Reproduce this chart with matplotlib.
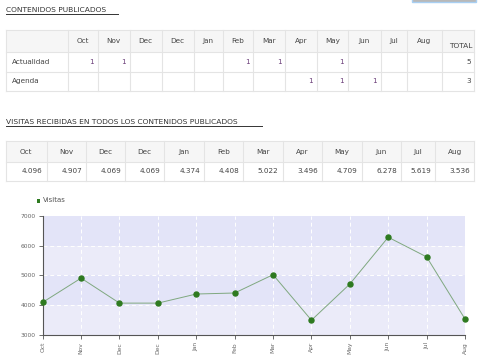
import matplotlib
matplotlib.use("Agg")
import matplotlib.pyplot as plt
from matplotlib.patches import Rectangle
from matplotlib.lines import Line2D

# ---------------- data ----------------
months = ["Oct", "Nov", "Dec", "Dec", "Jan", "Feb", "Mar", "Apr", "May", "Jun", "Jul", "Aug"]
actualidad = [1, 1, None, None, None, 1, 1, None, 1, None, None, None]
agenda = [None, None, None, None, None, None, None, 1, 1, 1, None, None]
row_names = ["Actualidad", "Agenda"]
totals = [5, 3]
visitas = [4096, 4907, 4069, 4069, 4374, 4408, 5022, 3496, 4709, 6278, 5619, 3536]
visitas_labels = ["4.096", "4.907", "4.069", "4.069", "4.374", "4.408", "5.022",
                  "3.496", "4.709", "6.278", "5.619", "3.536"]
yticks = [3000, 4000, 5000, 6000, 7000]

W, H = 485, 363
fig = plt.figure(figsize=(W / 100, H / 100), dpi=100)
fig.patch.set_facecolor("white")

FONT = "DejaVu Sans"
TXT = "#444444"
BORDER = "#e4e4e4"
HEADBG = "#f6f6f6"
NUMC = "#6a3d78"


def fx(x):
    return x / W


def fy(y):
    return 1 - y / H


def rect(x0, y0, x1, y1, fc, ec="none", lw=0.8):
    fig.add_artist(Rectangle((fx(x0), fy(y1)), fx(x1) - fx(x0), fy(y0) - fy(y1),
                             transform=fig.transFigure, facecolor=fc, edgecolor=ec, lw=lw))


def hline(x0, x1, y, color=BORDER, lw=0.8):
    fig.add_artist(Line2D([fx(x0), fx(x1)], [fy(y), fy(y)], transform=fig.transFigure,
                          color=color, lw=lw))


def vline(x, y0, y1, color=BORDER, lw=0.8):
    fig.add_artist(Line2D([fx(x), fx(x)], [fy(y0), fy(y1)], transform=fig.transFigure,
                          color=color, lw=lw))


def text(x, y, s, ha="left", va="center", size=5.2, color=TXT, **kw):
    fig.text(fx(x), fy(y), s, ha=ha, va=va, fontsize=size, color=color, family=FONT, **kw)


# top-right button remnant
rect(412, -2, 476, 2.0, "#b8b8b8", ec="#a8cff3", lw=1.0)

# ---------------- table 1 ----------------
text(6, 10.5, "CONTENIDOS PUBLICADOS", size=5.4, color="#333333")
hline(6, 118, 14.3, color="#333333", lw=0.7)

cols1 = [6, 67.7, 97.7, 129.7, 161.7, 193.7, 222.7, 253.3, 285.3, 316.7, 347.7, 380.7, 407.3, 441.7, 474.3]
rows1 = [30, 52, 71.5, 91]
rect(cols1[0], rows1[0], cols1[-1], rows1[1], HEADBG)
for y in rows1:
    hline(cols1[0], cols1[-1], y)
for x in cols1:
    vline(x, rows1[0], rows1[-1])
for i, m in enumerate(months):
    text((cols1[i + 1] + cols1[i + 2]) / 2, 41, m, ha="center")
text(cols1[-1] - 2, 46, "TOTAL", ha="right", size=5.4)
for r, (name, vals, tot) in enumerate(zip(row_names, [actualidad, agenda], totals)):
    yc = (rows1[r + 1] + rows1[r + 2]) / 2
    text(cols1[0] + 6, yc, name)
    for i, v in enumerate(vals):
        if v is not None:
            text(cols1[i + 2] - 4, yc, str(v), ha="right", color=NUMC)
    text(cols1[-1] - 3, yc, str(tot), ha="right")

# ---------------- table 2 ----------------
text(6, 122, "VISITAS RECIBIDAS EN TODOS LOS CONTENIDOS PUBLICADOS", size=5.4, color="#333333")
hline(6, 262, 126, color="#333333", lw=0.7)

cols2 = [6, 46.7, 86, 125, 164.3, 204, 243.3, 282.7, 322, 361.7, 401, 435, 474.3]
rows2 = [141, 161.7, 181]
rect(cols2[0], rows2[0], cols2[-1], rows2[1], HEADBG)
for y in rows2:
    hline(cols2[0], cols2[-1], y)
for x in cols2:
    vline(x, rows2[0], rows2[-1])
for i, m in enumerate(months):
    text((cols2[i] + cols2[i + 1]) / 2, 151.5, m, ha="center")
    text(cols2[i + 1] - 4, 171, visitas_labels[i], ha="right")

# ---------------- chart ----------------
ax_l, ax_r, ax_t, ax_b = 42.7, 465, 215.7, 335
ax = fig.add_axes([fx(ax_l), fy(ax_b), fx(ax_r) - fx(ax_l), fy(ax_t) - fy(ax_b)])
ax.set_xlim(0, len(months) - 1)
ax.set_ylim(yticks[0], yticks[-1])
ax.set_facecolor("#ebebf9")
for k in range(len(yticks) - 1):
    if (len(yticks) - 2 - k) % 2 == 0:
        ax.axhspan(yticks[k], yticks[k + 1], color="#e3e4f8", lw=0, zorder=0)
x = list(range(len(months)))
for xi in x[1:-1]:
    ax.axvline(xi, color="white", lw=0.7, ls=(0, (4, 3)), zorder=1)
for yv in yticks[1:-1]:
    ax.axhline(yv, color="white", lw=0.7, ls=(0, (4, 3)), zorder=1)
ax.plot(x, visitas, color="#7fa87f", lw=0.7, zorder=2)
ax.plot(x, visitas, ls="none", marker="o", ms=3.6, color="#2e7a20", zorder=3, clip_on=False)

for s in ["top", "right"]:
    ax.spines[s].set_visible(False)
for s in ["left", "bottom"]:
    ax.spines[s].set_color("#555555")
    ax.spines[s].set_linewidth(0.8)
ax.set_yticks(yticks)
ax.set_yticklabels([str(v) for v in yticks], fontsize=4.3, color="#666666", family=FONT)
ax.set_xticks(x)
ax.set_xticklabels(months, rotation=90, fontsize=4.3, color="#666666", family=FONT)
ax.tick_params(axis="both", length=3, width=0.6, color="#555555", pad=2)

# legend
fig.add_artist(Rectangle((fx(37), fy(202.5)), fx(3), fy(199.5) - fy(202.5),
                         transform=fig.transFigure, facecolor="#2e7a20", edgecolor="none"))
text(43, 200.5, "Visitas", size=5.0, color="#555555")

fig.savefig("out.png", dpi=100)
